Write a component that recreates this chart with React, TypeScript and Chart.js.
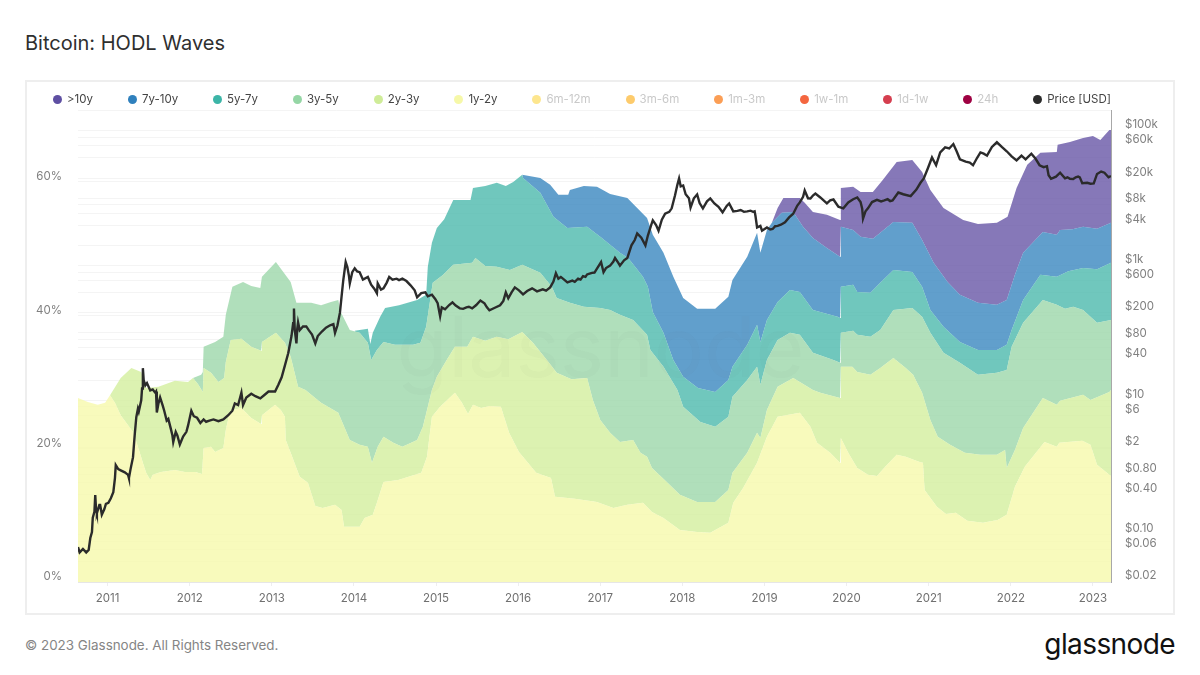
import React, { useEffect, useRef } from "react";
import Chart from "chart.js/auto";

// [date as decimal year, upper edge of the wave in % of supply]
const top1y2y: [number, number][] = [
  [2010.64, 27.6], [2010.76, 27.0], [2010.88, 26.6], [2010.97, 26.9], [2011.03, 28.0], [2011.09, 26.9], [2011.16, 25.0],
  [2011.31, 22.5], [2011.37, 20.3], [2011.43, 17.9], [2011.47, 16.4], [2011.52, 15.3], [2011.55, 16.1], [2011.65, 16.5],
  [2011.82, 16.8], [2011.94, 16.5], [2012.07, 16.5], [2012.15, 16.2], [2012.17, 20.1], [2012.26, 20.3], [2012.31, 19.5],
  [2012.41, 20.1], [2012.44, 22.8], [2012.48, 25.0], [2012.53, 25.8], [2012.63, 26.1], [2012.75, 24.6], [2012.87, 23.7],
  [2012.88, 25.0], [2013.04, 26.6], [2013.11, 25.8], [2013.16, 24.8], [2013.17, 21.3], [2013.23, 19.4], [2013.34, 15.8],
  [2013.44, 14.9], [2013.53, 11.4], [2013.62, 11.1], [2013.77, 11.6], [2013.85, 10.8], [2013.88, 8.3], [2014.07, 8.3],
  [2014.13, 9.6], [2014.23, 10.1], [2014.28, 11.9], [2014.36, 15.0], [2014.54, 15.3], [2014.82, 16.4], [2014.89, 18.8],
  [2014.95, 24.8], [2015.05, 26.3], [2015.23, 28.4], [2015.31, 27.0], [2015.39, 25.2], [2015.45, 26.6], [2015.55, 26.1],
  [2015.65, 26.4], [2015.79, 26.3], [2015.89, 22.4], [2016.01, 19.5], [2016.22, 16.4], [2016.40, 15.6], [2016.45, 12.8],
  [2016.69, 12.5], [2016.96, 12.0], [2017.16, 11.1], [2017.33, 11.6], [2017.52, 11.9], [2017.63, 10.5], [2017.77, 9.6],
  [2017.97, 7.8], [2018.18, 7.5], [2018.34, 7.4], [2018.56, 8.9], [2018.62, 11.9], [2018.74, 14.1], [2018.91, 17.9],
  [2019.03, 21.8], [2019.16, 24.8], [2019.43, 25.4], [2019.56, 23.3], [2019.64, 20.9], [2019.80, 19.4], [2019.92, 17.9],
  [2019.93, 21.6], [2020.02, 19.4], [2020.13, 17.1], [2020.26, 16.1], [2020.37, 15.9], [2020.47, 17.3], [2020.61, 19.1],
  [2020.72, 18.8], [2020.89, 18.0], [2020.93, 17.9], [2020.95, 13.8], [2021.10, 11.3], [2021.21, 10.2], [2021.33, 10.4],
  [2021.47, 9.2], [2021.66, 8.9], [2021.84, 9.3], [2021.95, 10.1], [2022.05, 14.3], [2022.17, 17.3], [2022.41, 21.0],
  [2022.56, 20.3], [2022.59, 20.9], [2022.87, 21.2], [2022.97, 20.6], [2023.05, 17.6], [2023.20, 16.1], [2023.22, 15.9],
];

const top2y3y: [number, number][] = [
  [2011.03, 28.0], [2011.16, 30.6], [2011.29, 32.1], [2011.41, 31.5], [2011.47, 29.1], [2011.62, 29.3], [2011.82, 30.2],
  [2011.98, 30.0], [2012.04, 30.6], [2012.10, 29.7], [2012.16, 28.5], [2012.17, 32.1], [2012.26, 31.4], [2012.35, 30.0],
  [2012.42, 30.6], [2012.44, 33.0], [2012.50, 36.3], [2012.63, 36.5], [2012.75, 35.3], [2012.87, 34.7], [2012.88, 36.0],
  [2013.05, 37.4], [2013.16, 35.9], [2013.23, 33.8], [2013.32, 29.3], [2013.41, 28.8], [2013.60, 26.9], [2013.81, 25.4],
  [2013.83, 24.8], [2013.95, 21.3], [2014.07, 20.6], [2014.17, 20.3], [2014.22, 17.9], [2014.29, 20.3], [2014.36, 21.8],
  [2014.48, 20.9], [2014.59, 20.3], [2014.77, 21.3], [2014.84, 23.3], [2014.95, 28.8], [2015.01, 30.8], [2015.13, 33.3],
  [2015.23, 35.3], [2015.38, 35.3], [2015.45, 36.8], [2015.60, 36.2], [2015.74, 36.8], [2015.88, 36.4], [2016.05, 37.5],
  [2016.18, 35.9], [2016.35, 33.3], [2016.47, 31.4], [2016.65, 30.4], [2016.84, 30.6], [2016.91, 27.3], [2017.00, 24.3],
  [2017.12, 22.4], [2017.24, 21.0], [2017.40, 21.3], [2017.49, 19.4], [2017.57, 18.8], [2017.63, 17.1], [2017.81, 15.0],
  [2017.97, 13.1], [2018.18, 12.0], [2018.40, 12.0], [2018.56, 13.8], [2018.61, 16.4], [2018.79, 19.4], [2018.91, 22.4],
  [2018.95, 21.6], [2019.03, 25.8], [2019.16, 29.3], [2019.35, 30.6], [2019.59, 28.8], [2019.68, 28.4], [2019.92, 27.6],
  [2019.93, 32.3], [2020.07, 32.3], [2020.13, 31.5], [2020.29, 31.1], [2020.41, 32.1], [2020.57, 33.6], [2020.72, 32.1],
  [2020.81, 31.1], [2020.92, 28.4], [2021.02, 24.3], [2021.11, 21.8], [2021.26, 20.6], [2021.44, 19.4], [2021.63, 19.1],
  [2021.83, 19.1], [2021.93, 19.8], [2021.95, 17.1], [2022.05, 19.8], [2022.15, 23.1], [2022.39, 27.6], [2022.56, 26.6],
  [2022.60, 27.2], [2022.88, 28.1], [2022.97, 27.3], [2023.20, 28.5], [2023.22, 28.8],
];

const top3y5y: [number, number][] = [
  [2012.04, 30.6], [2012.14, 31.1], [2012.16, 31.5], [2012.17, 35.3], [2012.31, 36.0], [2012.41, 36.8], [2012.44, 40.1],
  [2012.52, 44.3], [2012.65, 45.0], [2012.75, 44.4], [2012.86, 44.1], [2012.88, 45.8], [2013.05, 48.0], [2013.23, 45.0],
  [2013.30, 41.9], [2013.48, 41.9], [2013.60, 41.5], [2013.72, 42.0], [2013.81, 42.3], [2013.84, 40.5], [2013.95, 37.8],
  [2014.07, 37.4], [2014.17, 35.9], [2014.21, 33.3], [2014.28, 34.8], [2014.36, 36.0], [2014.50, 35.6], [2014.72, 35.6],
  [2014.81, 35.9], [2014.88, 38.3], [2014.96, 44.9], [2015.08, 46.0], [2015.21, 47.6], [2015.44, 47.9], [2015.48, 48.6],
  [2015.60, 47.4], [2015.74, 47.3], [2015.90, 46.8], [2016.05, 47.6], [2016.27, 46.4], [2016.41, 44.3], [2016.47, 42.6],
  [2016.63, 41.9], [2016.80, 41.3], [2017.00, 41.1], [2017.12, 40.8], [2017.24, 40.1], [2017.40, 39.3], [2017.57, 37.1],
  [2017.61, 34.8], [2017.77, 32.3], [2017.94, 28.8], [2018.01, 26.3], [2018.22, 24.0], [2018.40, 23.3], [2018.56, 24.8],
  [2018.61, 27.8], [2018.79, 30.3], [2018.91, 32.3], [2018.95, 29.6], [2019.03, 33.3], [2019.16, 36.3], [2019.31, 37.4],
  [2019.43, 37.1], [2019.59, 34.4], [2019.84, 33.3], [2019.92, 32.9], [2019.93, 37.4], [2020.08, 37.7], [2020.13, 37.1],
  [2020.29, 36.8], [2020.41, 37.8], [2020.57, 40.8], [2020.80, 41.1], [2020.92, 39.8], [2021.02, 37.4], [2021.18, 34.4],
  [2021.38, 32.9], [2021.60, 31.1], [2021.83, 31.4], [2021.95, 31.8], [2022.01, 35.3], [2022.15, 38.9], [2022.39, 42.3],
  [2022.56, 41.6], [2022.66, 41.0], [2022.76, 41.3], [2022.88, 40.8], [2023.05, 38.9], [2023.22, 39.3],
];

const top5y7y: [number, number][] = [
  [2014.01, 37.7], [2014.17, 38.0], [2014.20, 35.7], [2014.23, 37.4], [2014.32, 39.8], [2014.38, 41.1], [2014.55, 41.5],
  [2014.77, 42.3], [2014.88, 43.1], [2014.90, 47.3], [2014.95, 50.9], [2015.01, 53.1], [2015.10, 54.4], [2015.21, 57.3],
  [2015.42, 57.3], [2015.45, 59.1], [2015.60, 59.4], [2015.74, 59.9], [2015.85, 59.4], [2015.94, 60.0], [2016.05, 61.1],
  [2016.06, 60.6], [2016.27, 58.4], [2016.43, 54.8], [2016.60, 53.1], [2016.84, 53.3], [2017.00, 51.8], [2017.12, 50.6],
  [2017.24, 49.4], [2017.34, 48.6], [2017.52, 45.8], [2017.58, 44.3], [2017.64, 40.5], [2017.77, 37.4], [2017.89, 33.3],
  [2018.01, 30.8], [2018.19, 29.1], [2018.40, 28.5], [2018.56, 30.3], [2018.61, 32.3], [2018.79, 35.6], [2018.91, 38.6],
  [2018.95, 36.0], [2019.03, 39.3], [2019.16, 42.0], [2019.31, 43.8], [2019.43, 43.5], [2019.59, 40.8], [2019.89, 39.8],
  [2019.92, 39.6], [2019.93, 44.3], [2020.08, 44.6], [2020.13, 43.5], [2020.29, 43.4], [2020.41, 44.9], [2020.57, 46.8],
  [2020.80, 46.5], [2020.92, 44.3], [2021.02, 40.8], [2021.18, 38.3], [2021.38, 36.0], [2021.60, 34.8], [2021.83, 34.8],
  [2021.95, 35.6], [2022.01, 37.8], [2022.15, 42.3], [2022.36, 46.1], [2022.56, 45.8], [2022.70, 46.6], [2022.88, 47.1],
  [2023.05, 46.9], [2023.22, 47.9],
];

const top7y10y: [number, number][] = [
  [2016.05, 61.1], [2016.27, 60.6], [2016.39, 59.6], [2016.49, 58.1], [2016.61, 58.1], [2016.63, 58.8], [2016.80, 59.4],
  [2016.96, 59.3], [2017.12, 58.2], [2017.33, 57.6], [2017.45, 56.1], [2017.57, 54.6], [2017.64, 52.1], [2017.77, 49.4],
  [2017.89, 45.8], [2018.01, 42.6], [2018.18, 41.0], [2018.40, 41.0], [2018.56, 42.8], [2018.61, 45.3], [2018.79, 48.8],
  [2018.91, 52.4], [2018.95, 49.4], [2019.03, 52.8], [2019.09, 53.9], [2019.21, 55.4], [2019.35, 55.5], [2019.47, 53.3],
  [2019.59, 51.6], [2019.76, 50.1], [2019.92, 48.8], [2019.93, 53.3], [2020.08, 52.8], [2020.17, 51.8], [2020.32, 51.5],
  [2020.41, 52.4], [2020.57, 54.0], [2020.80, 53.9], [2020.92, 51.3], [2021.06, 47.9], [2021.23, 45.0], [2021.38, 43.1],
  [2021.60, 41.9], [2021.83, 41.6], [2021.95, 42.3], [2022.05, 46.1], [2022.15, 49.4], [2022.39, 52.5], [2022.56, 52.1],
  [2022.60, 52.8], [2022.75, 52.9], [2022.88, 53.3], [2023.05, 53.0], [2023.22, 53.9],
];

const topOver10y: [number, number][] = [
  [2019.09, 53.9], [2019.16, 56.1], [2019.23, 57.6], [2019.43, 57.6], [2019.49, 56.9], [2019.59, 55.5], [2019.76, 55.1],
  [2019.92, 54.3], [2019.93, 59.1], [2020.08, 59.3], [2020.17, 58.5], [2020.32, 58.5], [2020.44, 60.3], [2020.61, 63.0],
  [2020.80, 63.3], [2020.92, 61.5], [2021.02, 58.8], [2021.18, 56.1], [2021.42, 54.3], [2021.60, 53.7], [2021.83, 53.9],
  [2021.96, 54.8], [2022.07, 59.1], [2022.20, 62.6], [2022.36, 64.4], [2022.56, 64.5], [2022.57, 65.6], [2022.72, 66.0],
  [2022.88, 66.6], [2023.00, 66.9], [2023.09, 66.3], [2023.20, 67.8], [2023.22, 67.8],
];

// [date, USD]
const priceUsd: [number, number][] = [
  [2010.64, 0.066], [2010.66, 0.055], [2010.70, 0.062], [2010.74, 0.055], [2010.77, 0.06], [2010.79, 0.09], [2010.81, 0.11],
  [2010.82, 0.18], [2010.84, 0.22], [2010.85, 0.39], [2010.86, 0.24], [2010.87, 0.21], [2010.90, 0.28], [2010.91, 0.28],
  [2010.93, 0.2], [2010.96, 0.24], [2010.98, 0.29], [2011.01, 0.3], [2011.04, 0.35], [2011.07, 0.43], [2011.09, 0.7],
  [2011.10, 1.09], [2011.13, 0.95], [2011.16, 0.91], [2011.21, 0.85], [2011.25, 0.78], [2011.26, 0.7], [2011.28, 0.95],
  [2011.31, 1.43], [2011.33, 3], [2011.35, 5.6], [2011.37, 7.5], [2011.38, 6.8], [2011.41, 10], [2011.42, 15], [2011.43, 30],
  [2011.44, 20], [2011.46, 16.7], [2011.48, 18], [2011.52, 14], [2011.55, 14.5], [2011.58, 13], [2011.59, 13.5], [2011.60, 6.6],
  [2011.62, 9], [2011.64, 11], [2011.67, 8.5], [2011.69, 7], [2011.72, 5], [2011.74, 5.3], [2011.77, 3.8], [2011.79, 3],
  [2011.80, 2.4], [2011.83, 3.4], [2011.85, 3], [2011.88, 2.2], [2011.92, 2.9], [2011.96, 3.4], [2011.98, 4.2], [2012.02, 7],
  [2012.05, 5.8], [2012.09, 5.5], [2012.13, 4.6], [2012.17, 5.2], [2012.20, 4.8], [2012.24, 5], [2012.29, 5.2], [2012.35, 4.9],
  [2012.41, 5.2], [2012.47, 6], [2012.52, 7], [2012.55, 9], [2012.59, 8.5], [2012.63, 13], [2012.65, 8.5], [2012.69, 11],
  [2012.75, 12.5], [2012.80, 11.5], [2012.86, 10.7], [2012.91, 12], [2012.96, 13.5], [2013.04, 13.5], [2013.08, 17],
  [2013.12, 22], [2013.16, 33], [2013.20, 50], [2013.24, 90], [2013.26, 140], [2013.27, 230], [2013.28, 110], [2013.30, 70],
  [2013.31, 115], [2013.32, 144], [2013.34, 110], [2013.38, 125], [2013.42, 125], [2013.45, 110], [2013.49, 95], [2013.53, 70],
  [2013.56, 90], [2013.61, 105], [2013.66, 120], [2013.71, 130], [2013.75, 135], [2013.77, 100], [2013.80, 130], [2013.83, 200],
  [2013.85, 350], [2013.87, 600], [2013.90, 1130], [2013.92, 950], [2013.94, 700], [2013.95, 545], [2013.98, 800], [2014.01, 915],
  [2014.04, 820], [2014.07, 800], [2014.11, 620], [2014.17, 680], [2014.21, 520], [2014.25, 450], [2014.28, 388], [2014.29, 545],
  [2014.33, 440], [2014.36, 460], [2014.40, 560], [2014.43, 680], [2014.47, 620], [2014.52, 640], [2014.55, 610], [2014.59, 640],
  [2014.64, 590], [2014.69, 510], [2014.74, 430], [2014.77, 338], [2014.82, 390], [2014.87, 400], [2014.90, 350], [2014.95, 370],
  [2014.99, 320], [2015.02, 276], [2015.05, 177], [2015.07, 240], [2015.11, 225], [2015.16, 260], [2015.20, 285], [2015.24, 255],
  [2015.29, 232], [2015.33, 228], [2015.37, 240], [2015.40, 245], [2015.44, 232], [2015.49, 260], [2015.54, 303], [2015.59, 275],
  [2015.62, 240], [2015.65, 217], [2015.71, 235], [2015.78, 258], [2015.82, 300], [2015.85, 400], [2015.88, 327], [2015.92, 400],
  [2015.96, 476], [2016.01, 430], [2016.06, 375], [2016.11, 420], [2016.17, 460], [2016.23, 415], [2016.30, 445], [2016.34, 425],
  [2016.39, 476], [2016.43, 580], [2016.46, 770], [2016.49, 640], [2016.52, 680], [2016.56, 620], [2016.60, 564], [2016.66, 600],
  [2016.69, 575], [2016.73, 640], [2016.76, 620], [2016.79, 700], [2016.82, 680], [2016.84, 740], [2016.87, 760], [2016.90, 780],
  [2016.93, 790], [2016.96, 900], [2017.01, 1130], [2017.04, 800], [2017.07, 920], [2017.12, 1000], [2017.16, 1150], [2017.18, 1300],
  [2017.22, 1100], [2017.24, 1000], [2017.29, 1200], [2017.33, 1300], [2017.38, 2000], [2017.42, 2400], [2017.45, 3000], [2017.50, 2600],
  [2017.55, 2000], [2017.58, 2800], [2017.62, 4000], [2017.64, 4700], [2017.68, 4000], [2017.71, 3300], [2017.75, 4800], [2017.79, 5900],
  [2017.84, 6300], [2017.87, 7100], [2017.91, 11000], [2017.94, 16000], [2017.96, 19700], [2017.98, 15000], [2018.01, 15500],
  [2018.04, 11500], [2018.08, 10000], [2018.10, 7300], [2018.14, 10000], [2018.18, 11400], [2018.21, 8500], [2018.25, 7100],
  [2018.30, 9000], [2018.34, 9950], [2018.39, 8400], [2018.44, 7500], [2018.49, 6200], [2018.54, 7700], [2018.57, 8400], [2018.62, 6400],
  [2018.67, 6500], [2018.71, 6700], [2018.75, 6300], [2018.79, 6400], [2018.83, 6550], [2018.86, 6300], [2018.88, 6400], [2018.89, 5500],
  [2018.91, 3700], [2018.95, 3900], [2018.97, 3300], [2019.03, 3700], [2019.07, 3450], [2019.10, 3500], [2019.13, 3850], [2019.16, 3900],
  [2019.20, 4050], [2019.25, 4400], [2019.30, 5200], [2019.35, 5900], [2019.40, 7800], [2019.43, 8700], [2019.47, 10500], [2019.49, 13100],
  [2019.53, 10000], [2019.56, 9950], [2019.59, 11000], [2019.62, 11800], [2019.68, 10300], [2019.76, 8400], [2019.80, 9300], [2019.84, 9600],
  [2019.90, 7500], [2019.96, 7100], [2020.02, 8700], [2020.08, 9700], [2020.13, 10300], [2020.17, 8800], [2020.19, 7000], [2020.20, 5000],
  [2020.23, 6400], [2020.26, 7100], [2020.31, 8800], [2020.37, 9500], [2020.42, 9000], [2020.46, 9300], [2020.50, 9700], [2020.53, 9100],
  [2020.56, 9300], [2020.61, 11300], [2020.63, 12200], [2020.69, 11500], [2020.78, 10800], [2020.85, 13500], [2020.90, 17000],
  [2020.94, 19700], [2020.99, 28000], [2021.04, 40400], [2021.09, 31000], [2021.14, 48000], [2021.20, 57000], [2021.25, 55000],
  [2021.30, 64000], [2021.34, 50000], [2021.38, 38000], [2021.45, 35000], [2021.50, 34000], [2021.54, 31000], [2021.59, 40000],
  [2021.63, 48000], [2021.67, 46000], [2021.71, 43000], [2021.77, 58000], [2021.83, 68000], [2021.89, 58000], [2021.95, 50000],
  [2022.01, 42000], [2022.07, 36500], [2022.13, 43000], [2022.18, 38000], [2022.25, 46000], [2022.30, 39000], [2022.35, 31000],
  [2022.40, 29000], [2022.44, 30000], [2022.46, 22000], [2022.49, 19500], [2022.55, 21000], [2022.60, 24000], [2022.66, 19800],
  [2022.69, 20500], [2022.72, 19500], [2022.76, 19300], [2022.79, 20500], [2022.82, 21000], [2022.84, 20500], [2022.87, 16800],
  [2022.93, 17000], [2022.97, 16500], [2023.01, 16700], [2023.05, 23000], [2023.10, 25000], [2023.14, 24000], [2023.19, 20500],
  [2023.22, 21500],
];

const yearTicks = [2011, 2012, 2013, 2014, 2015, 2016, 2017, 2018, 2019, 2020, 2021, 2022, 2023];
const percentTicks = [0, 20, 40, 60];
const priceGridTicks = [
  0.02, 0.04, 0.06, 0.08, 0.1, 0.2, 0.4, 0.6, 0.8, 1, 2, 4, 6, 8, 10, 20, 40, 60, 80, 100, 200, 400, 600, 800, 1000, 2000,
  4000, 6000, 8000, 10000, 20000, 40000, 60000, 80000, 100000, 200000,
];
const priceLabels: Record<number, string> = {
  0.02: "$0.02", 0.06: "$0.06", 0.1: "$0.10", 0.4: "$0.40", 0.8: "$0.80", 2: "$2", 6: "$6", 10: "$10", 40: "$40", 80: "$80",
  200: "$200", 600: "$600", 1000: "$1k", 4000: "$4k", 8000: "$8k", 20000: "$20k", 60000: "$60k", 100000: "$100k",
};

const legendNames = [">10y", "7y-10y", "5y-7y", "3y-5y", "2y-3y", "1y-2y", "6m-12m", "3m-6m", "1m-3m", "1w-1m", "1d-1w", "24h", "Price [USD]"];
const legendColors = ["#5e4fa2", "#2f80bd", "#3cb5a7", "#95d6a5", "#cfec98", "#f6f8a8", "#fde68e", "#fdcb6c", "#fb9e55", "#f4663f", "#d53e4f", "#9e0142", "#2b2b2b"];
const legendMuted = ["6m-12m", "3m-6m", "1m-3m", "1w-1m", "1d-1w", "24h"];

const toPoints = (rows: [number, number][]) => rows.map(([x, y]) => ({ x, y }));

const area = (label: string, rows: [number, number][], color: string, fill: string) => ({
  label,
  data: toPoints(rows),
  yAxisID: "y",
  borderWidth: 0,
  pointRadius: 0,
  backgroundColor: color,
  fill,
  order: 1,
});

const watermark = {
  id: "watermark",
  afterDatasetsDraw(chart: Chart) {
    const { ctx, chartArea } = chart;
    ctx.save();
    ctx.font = '84px "Inter"';
    ctx.fillStyle = "rgba(60,60,60,0.028)";
    ctx.textAlign = "center";
    ctx.textBaseline = "middle";
    ctx.fillText("glassnode", (chartArea.left + chartArea.right) / 2 + 6, (chartArea.top + chartArea.bottom) / 2 + 6);
    ctx.restore();
  },
};

export default function App() {
  const canvasRef = useRef<HTMLCanvasElement>(null);

  useEffect(() => {
    document.body.style.background = "#fff";
    const tickFont = { family: "Inter", size: 11.5 };
    const chart = new Chart(canvasRef.current!, {
      type: "line",
      data: {
        datasets: [
          area("1y-2y", top1y2y, "rgba(245,248,165,0.75)", "origin"),
          area("2y-3y", top2y3y, "rgba(208,237,151,0.75)", "-1"),
          area("3y-5y", top3y5y, "rgba(149,212,164,0.75)", "-1"),
          area("5y-7y", top5y7y, "rgba(64,180,167,0.75)", "-1"),
          area("7y-10y", top7y10y, "rgba(44,127,187,0.75)", "-1"),
          area(">10y", topOver10y, "rgba(93,75,160,0.75)", "-1"),
          {
            label: "Price [USD]",
            data: toPoints(priceUsd),
            yAxisID: "price",
            borderColor: "#2b2b2b",
            borderWidth: 2.4,
            pointRadius: 0,
            tension: 0,
            fill: false,
            order: 0,
          },
        ],
      },
      options: {
        animation: false,
        responsive: false,
        devicePixelRatio: 1,
        layout: { padding: { top: 28 } },
        plugins: { legend: { display: false }, tooltip: { enabled: false } },
        scales: {
          x: {
            type: "linear",
            min: 2010.64,
            max: 2023.22,
            grid: { drawOnChartArea: false, tickLength: 4, tickColor: "#eeeeee" },
            border: { color: "#e6e6e6" },
            ticks: {
              font: tickFont,
              color: "#707070",
              padding: 6,
              maxRotation: 0,
              autoSkip: false,
              callback: (v) => String(v),
            },
            afterBuildTicks: (s) => {
              s.ticks = yearTicks.map((value) => ({ value }));
            },
            afterFit: (s) => {
              s.height = 32;
            },
          },
          y: {
            position: "left",
            min: 0,
            max: 70.8,
            grid: { color: "rgba(0,0,0,0.045)", drawTicks: false },
            border: { display: false },
            ticks: {
              font: tickFont,
              color: "#808080",
              padding: 16,
              labelOffset: -5,
              callback: (v) => `${v}%`,
            },
            afterBuildTicks: (s) => {
              s.ticks = percentTicks.map((value) => ({ value }));
            },
            afterFit: (s) => {
              s.width = 52;
            },
          },
          price: {
            type: "logarithmic",
            position: "right",
            min: 0.02,
            max: 205000,
            grid: { color: "rgba(0,0,0,0.045)", drawTicks: false },
            border: { color: "#a8a8a8", display: true },
            ticks: {
              font: tickFont,
              color: "#808080",
              padding: 14,
              labelOffset: -6,
              autoSkip: false,
              callback: (v) => priceLabels[Number(v)] ?? "",
            },
            afterBuildTicks: (s) => {
              s.ticks = priceGridTicks.map((value) => ({ value }));
            },
            afterFit: (s) => {
              s.width = 63;
            },
          },
        },
      },
      plugins: [watermark],
    });
    return () => chart.destroy();
  }, []);

  return (
    <div style={{ position: "absolute", left: 0, top: 0, width: 1200, height: 675, background: "#fff", overflow: "hidden", fontFamily: "Inter" }}>
      <div style={{ position: "absolute", left: 25, top: 31, fontSize: 20, fontWeight: 400, color: "#2f2f2f" }}>Bitcoin: HODL Waves</div>
      <div style={{ position: "absolute", left: 25, top: 80, width: 1150, height: 535, boxSizing: "border-box", border: "2px solid #eeeeee" }} />
      <canvas ref={canvasRef} width={1148} height={532} style={{ position: "absolute", left: 26, top: 82 }} />
      <div style={{ position: "absolute", left: 53, top: 91, width: 1058, display: "flex", justifyContent: "space-between", fontSize: 11.5, lineHeight: "16px" }}>
        {legendNames.map((name, i) => (
          <span key={name} style={{ display: "inline-flex", alignItems: "center", gap: 5, color: legendMuted.includes(name) ? "#c9c9c9" : "#444" }}>
            <span style={{ width: 9, height: 9, borderRadius: "50%", background: legendColors[i] }} />
            {name}
          </span>
        ))}
      </div>
      <div style={{ position: "absolute", left: 25, top: 637, fontSize: 13.4, color: "#858585" }}>© 2023 Glassnode. All Rights Reserved.</div>
      <div style={{ position: "absolute", right: 25, top: 627, fontSize: 28, fontWeight: 400, color: "#111", letterSpacing: -0.6 }}>glassnode</div>
    </div>
  );
}
